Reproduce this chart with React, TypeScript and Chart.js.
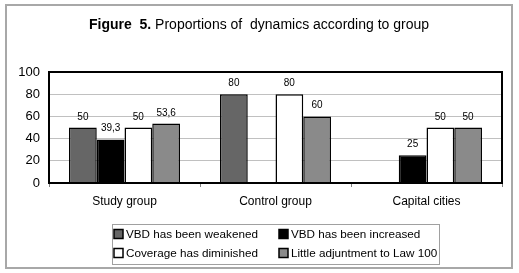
import React, { useEffect, useRef } from "react";
import { Chart, registerables } from "chart.js";

Chart.register(...registerables);

const categories = ["Study group", "Control group", "Capital cities"];
const seriesNames = [
  "VBD has been weakened",
  "VBD has been increased",
  "Coverage has diminished",
  "Little adjuntment to Law 100",
];
const weakened = [50, 80, null];
const increased = [39.3, null, 25];
const diminished = [50, 80, 50];
const littleAdjustment = [53.6, 60, 50];
const seriesColors = ["#666666", "#000000", "#ffffff", "#8a8a8a"];
const yMin = 0;
const yMax = 100;
const yStep = 20;
const titleBold = "Figure  5.";
const titleRest = " Proportions of  dynamics according to group";

const FONT = "'Liberation Sans', Arial, sans-serif";

const fmt = (v: number) => String(v).replace(".", ",");

const decorPlugin = {
  id: "decor",
  afterDraw(chart: any) {
    const ctx = chart.ctx as CanvasRenderingContext2D;
    const area = chart.chartArea;
    ctx.save();

    // outer frame
    ctx.strokeStyle = "#a8a8a8";
    ctx.lineWidth = 2;
    ctx.strokeRect(6, 5, 506, 263);

    // title
    ctx.fillStyle = "#000";
    ctx.textBaseline = "alphabetic";
    ctx.font = `bold 14px ${FONT}`;
    const wb = ctx.measureText(titleBold).width;
    ctx.font = `14px ${FONT}`;
    const wr = ctx.measureText(titleRest).width;
    const tx = 259 - (wb + wr) / 2;
    ctx.font = `bold 14px ${FONT}`;
    ctx.textAlign = "left";
    ctx.fillText(titleBold, tx, 29);
    ctx.font = `14px ${FONT}`;
    ctx.fillText(titleRest, tx + wb, 29);

    // data labels
    ctx.font = `10px ${FONT}`;
    ctx.textAlign = "center";
    ctx.textBaseline = "alphabetic";
    chart.data.datasets.forEach((ds: any, i: number) => {
      const meta = chart.getDatasetMeta(i);
      meta.data.forEach((el: any, j: number) => {
        const v = ds.data[j];
        if (v === null || v === undefined) return;
        ctx.fillText(fmt(v), el.x, el.y - 8);
      });
    });

    // plot border
    ctx.strokeStyle = "#000";
    ctx.lineWidth = 2;
    ctx.strokeRect(area.left, area.top, area.right - area.left, area.bottom - area.top);

    // legend
    const lx = 112, ly = 224, lw = 327, lh = 40;
    ctx.strokeStyle = "#a0a0a0";
    ctx.lineWidth = 1;
    ctx.strokeRect(lx + 0.5, ly + 0.5, lw, lh);
    ctx.font = `11.7px ${FONT}`;
    ctx.textAlign = "left";
    ctx.textBaseline = "middle";
    const colX = [114, 279];
    const rowY = [234, 253];
    seriesNames.forEach((name, i) => {
      const x = colX[i % 2];
      const y = rowY[Math.floor(i / 2)];
      ctx.fillStyle = seriesColors[i];
      ctx.fillRect(x, y - 4.5, 9, 9);
      ctx.strokeStyle = "#000";
      ctx.lineWidth = 1.5;
      ctx.strokeRect(x, y - 4.5, 9, 9);
      ctx.fillStyle = "#000";
      ctx.fillText(name, x + 12, y + 0.5);
    });

    ctx.restore();
  },
};

export default function App() {
  const ref = useRef<HTMLCanvasElement>(null);
  useEffect(() => {
    if (!ref.current) return;
    const seriesData = [weakened, increased, diminished, littleAdjustment];
    const chart = new Chart(ref.current, {
      type: "bar",
      data: {
        labels: categories,
        datasets: seriesNames.map((name, i) => ({
          label: name,
          data: seriesData[i] as any,
          backgroundColor: seriesColors[i],
          borderColor: "#000",
          borderWidth: 1.5,
          barPercentage: 1,
          categoryPercentage: 0.735,
        })),
      },
      options: {
        animation: false,
        responsive: false,
        devicePixelRatio: 1,
        layout: { padding: { top: 72, right: 17, left: 0, bottom: 0 } },
        plugins: {
          legend: { display: false },
          title: { display: false },
          tooltip: { enabled: false },
        },
        scales: {
          x: {
            grid: {
              offset: true,
              drawOnChartArea: false,
              drawTicks: true,
              tickLength: 4,
              color: "#808080",
            },
            border: { display: false },
            ticks: { color: "#000", font: { family: FONT, size: 12 }, padding: 7 },
            afterFit(s: any) {
              s.height = 90;
            },
          },
          y: {
            min: yMin,
            max: yMax,
            ticks: { stepSize: yStep, color: "#000", font: { family: FONT, size: 13 }, padding: 9 },
            grid: { color: "#c0c0c0", drawTicks: false },
            border: { display: false },
            afterFit(s: any) {
              s.width = 49;
            },
          },
        },
      },
      plugins: [decorPlugin],
    });
    return () => chart.destroy();
  }, []);
  return (
    <div style={{ position: "fixed", left: 0, top: 0, width: 519, height: 273, background: "#fff" }}>
      <canvas ref={ref} width={519} height={273} />
    </div>
  );
}
